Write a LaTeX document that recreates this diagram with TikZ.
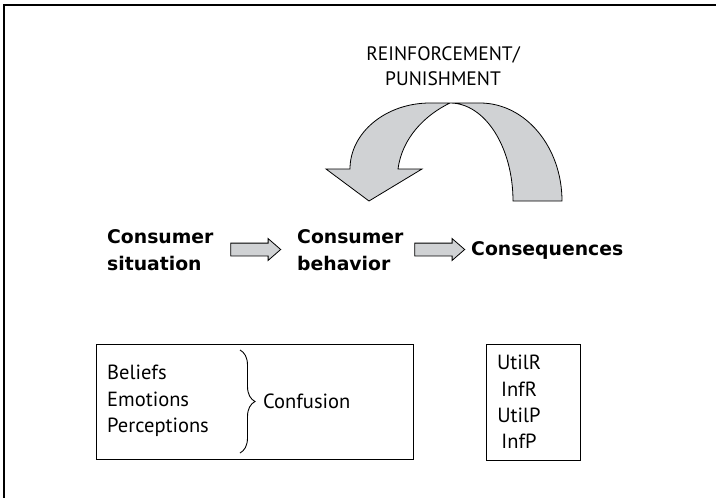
\documentclass[tikz,border=0pt]{standalone}
\usepackage{fontspec}
\setmainfont{PT Sans}
\newfontfamily\stagefont{DejaVu Sans}
\usetikzlibrary{shapes.arrows,decorations.pathreplacing}
\definecolor{ribbongray}{RGB}{208,210,212}
\begin{document}
\begin{tikzpicture}[x=1pt,y=-1pt,
    boxtext/.style={font=\fontsize{20.5}{26.3}\selectfont, inner sep=0pt},
    stagetext/.style={font=\stagefont\bfseries\fontsize{18.8}{27}\selectfont, inner sep=0pt, align=left, anchor=west},
    blockarrow/.style={single arrow, draw=black, fill=ribbongray, line width=0.8pt,
        minimum height=50pt, minimum width=21pt, single arrow head extend=4.5pt,
        single arrow tip angle=82, inner sep=0pt},
    framebox/.style={draw=black, line width=0.9pt, anchor=north west, inner sep=0pt}
]
\useasboundingbox (0,0) rectangle (716,498);

% Rám
\draw[line width=1.3pt] (4,498) -- (4,5) -- (716,5);

% Popisek nad šipkou
\node[font=\fontsize{19.5}{25}\selectfont, align=center, inner sep=0pt]
    (feedback) at (443,66) {REINFORCEMENT/\\PUNISHMENT};

% Zakřivená šipka zpět
\draw[fill=ribbongray, line width=0.8pt, line join=miter]
    (350,169) arc[start angle=180, end angle=270, x radius=80, y radius=66]
    -- (480,103)
    arc[start angle=270, end angle=360, x radius=82, y radius=98]
    -- (513,201)
    arc[start angle=360, end angle=270, x radius=63, y radius=98]
    .. controls (425,115) and (402,138) .. (398,169)
    -- (422,169) -- (369,201) -- (326,169) -- cycle;

% Fáze
\node[stagetext] (situation) at (107,250) {Consumer\\situation};
\node[stagetext] (behavior) at (297,250) {Consumer\\behavior};
\node[stagetext] (consequences) at (471,250) {Consequences};

% Šipky mezi fázemi
\node[blockarrow] (step1) at (252,249.5) {\rule{0pt}{12pt}};
\node[blockarrow] (step2) at (436,249.5) {\rule{0pt}{12pt}};

% Levý box
\node[framebox, minimum width=317pt, minimum height=115pt] (mindbox) at (96,344) {};
\node[boxtext, align=left, anchor=west] (states) at (107,401) {Beliefs\\Emotions\\Perceptions};
\draw[line width=0.9pt, decorate, decoration={brace, amplitude=15pt}]
    (240,350) -- (240,453);
\node[boxtext, anchor=west] (confusion) at (263,401) {Confusion};

% Pravý box
\node[framebox, minimum width=94pt, minimum height=116pt] (outbox) at (486,344) {};
\node[boxtext, align=center] (outcomes) at (519,402) {UtilR\\InfR\\UtilP\\InfP};

\end{tikzpicture}
\end{document}
